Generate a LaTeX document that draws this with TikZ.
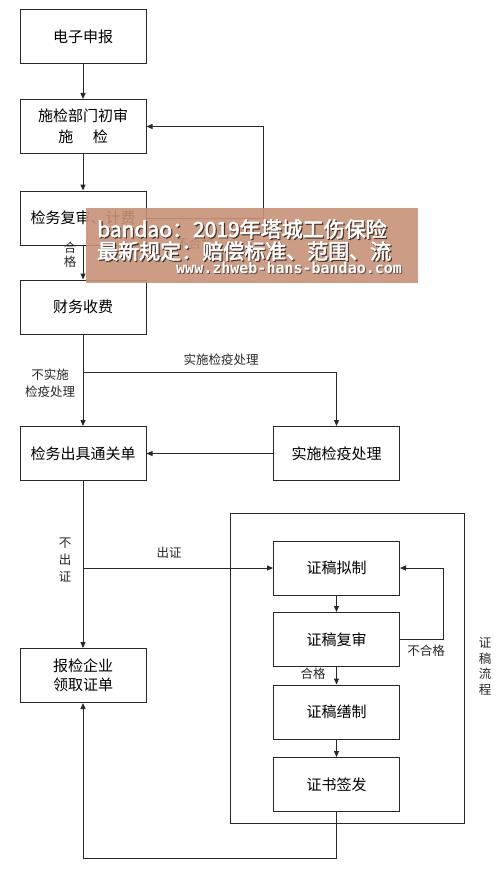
\documentclass[tikz,border=0pt]{standalone}
\usepackage{fontspec}
\setmainfont{Noto Sans CJK SC}
\newfontfamily\wmfont[FakeBold=2.5]{Noto Sans CJK SC}
\newfontfamily\urlfont{DejaVu Sans Mono}
\usetikzlibrary{arrows.meta}
\definecolor{lc}{RGB}{40,40,40}
\definecolor{wm}{RGB}{200,146,120}
\begin{document}
\begin{tikzpicture}[x=1pt,y=-1pt,
  box/.style={draw=lc, line width=1pt, minimum width=126pt, minimum height=54pt, inner sep=0pt, font=\fontsize{15}{21}\selectfont, align=center},
  lbl/.style={inner sep=0pt, font=\fontsize{12.5}{17}\selectfont, align=center, text=lc},
  con/.style={draw=lc, line width=1pt, -{Triangle[length=6pt,width=5pt]}},
  wmt/.style={inner sep=0pt, text=white, font=\wmfont\fontsize{21}{21}\selectfont},
  wms/.style={inner sep=0pt, text=black, opacity=0.55, font=\wmfont\fontsize{21}{21}\selectfont},
  urlt/.style={inner sep=0pt, text=white, font=\urlfont\bfseries\fontsize{15}{15}\selectfont},
  urls/.style={inner sep=0pt, text=black, opacity=0.5, font=\urlfont\bfseries\fontsize{15}{15}\selectfont}]
\useasboundingbox (0,0) rectangle (503,869);
\fill[white] (0,0) rectangle (503,869);

% boxes
\node[box] (a) at (83,37) {电子申报};
\node[box] (b) at (83,126.5) {施检部门初审\\施\hspace{1.3em}检};
\node[box] (c) at (83,218) {检务复审、计费};
\node[box] (d) at (83,307) {财务收费};
\node[box] (e) at (83,453.5) {检务出具通关单};
\node[box] (f) at (336.5,453.5) {实施检疫处理};
\node[box, font=\fontsize{15}{19}\selectfont] (g) at (83,675.5) {报检企业\\领取证单};
\node[draw=lc, line width=1pt, minimum width=234pt, minimum height=310pt, inner sep=0pt] (fr) at (347,668) {};
\node[box] (h) at (336.5,568) {证稿拟制};
\node[box] (i) at (336.5,639.5) {证稿复审};
\node[box] (j) at (336.5,712) {证稿缮制};
\node[box] (k) at (336.5,784.5) {证书签发};

% connectors
\coordinate (p1) at (263,218);
\coordinate (s1) at (83,372);
\coordinate (s2) at (83,568);
\coordinate (q) at (443,639.5);
\coordinate (r1) at (336.5,858);

\draw[con] (a) -- (b);
\draw[con] (b) -- (c);
\draw[con] (c) -- (d);
\draw[con] (c.east) -- (p1) |- (b.east);
\draw[con] (d) -- (e);
\draw[con] (s1) -| (f.north);
\draw[con] (f) -- (e);
\draw[con] (e) -- (g);
\draw[con] (s2) -- (h.west);
\draw[con] (h) -- (i);
\draw[con] (i) -- (j);
\draw[con] (j) -- (k);
\draw[con] (i.east) -- (q) |- (h.east);
\draw[con] (k.south) -- (r1) -| (g.south);

% labels
\node[lbl, font=\fontsize{12.5}{14}\selectfont] (l1) at (70,255) {合\\格};
\node[lbl] (l2) at (195,244) {不合格};
\node[lbl] (l3) at (221,360) {实施检疫处理};
\node[lbl] (l4) at (50,383.5) {不实施\\检疫处理};
\node[lbl] (l5) at (65,560) {不\\出\\证};
\node[lbl] (l6) at (169,553) {出证};
\node[lbl] (l7) at (426,651) {不合格};
\node[lbl] (l8) at (313,674) {合格};
\node[lbl, font=\fontsize{12.5}{15.7}\selectfont] (l9) at (485,666.5) {证\\稿\\流\\程};

% watermark
\fill[wm, opacity=0.9] (86,208) rectangle (418,283);
\node[wms, anchor=west] (w1s) at (98.2,230.2) {bandao：2019年塔城工伤保险};
\node[wmt, anchor=west] (w1) at (97,229) {bandao：2019年塔城工伤保险};
\node[wms, anchor=west] (w2s) at (98.2,252.2) {最新规定：赔偿标准、范围、流};
\node[wmt, anchor=west] (w2) at (97,251) {最新规定：赔偿标准、范围、流};
\node[urls, anchor=west] (w3s) at (177,269) {www.zhweb-hans-bandao.com};
\node[urlt, anchor=west] (w3) at (176,268) {www.zhweb-hans-bandao.com};
\end{tikzpicture}
\end{document}
